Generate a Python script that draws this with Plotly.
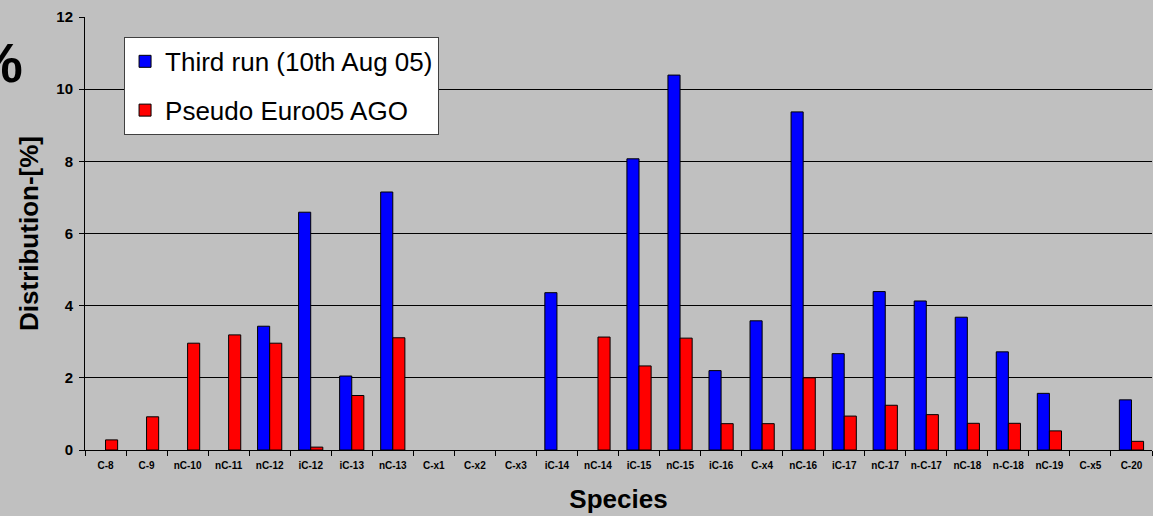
import plotly.graph_objects as go

categories = ["C-8", "C-9", "nC-10", "nC-11", "nC-12", "iC-12", "iC-13", "nC-13", "C-x1", "C-x2",
              "C-x3", "iC-14", "nC-14", "iC-15", "nC-15", "iC-16", "C-x4", "nC-16", "iC-17", "nC-17",
              "n-C-17", "nC-18", "n-C-18", "nC-19", "C-x5", "C-20"]
third_run = [None, None, None, None, 3.43, 6.59, 2.05, 7.15, None, None,
             None, 4.36, None, 8.07, 10.39, 2.20, 3.58, 9.37, 2.67, 4.39,
             4.13, 3.68, 2.72, 1.57, None, 1.39]
pseudo_euro = [0.28, 0.92, 2.96, 3.19, 2.96, 0.08, 1.51, 3.11, None, None,
               None, None, 3.13, 2.33, 3.10, 0.73, 0.73, 2.00, 0.94, 1.24,
               0.98, 0.74, 0.74, 0.53, None, 0.24]
y_ticks = [0, 2, 4, 6, 8, 10, 12]

FONT = "Arial, Liberation Sans, sans-serif"
BG = "#C0C0C0"

fig = go.Figure()
fig.add_trace(go.Bar(x=categories, y=third_run, name="Third run (10th Aug 05)", legendgroup="a",
                     marker=dict(color="#0000FF", line=dict(color="black", width=1))))
fig.add_trace(go.Bar(x=categories, y=pseudo_euro, name="Pseudo Euro05 AGO", legendgroup="b",
                     marker=dict(color="#FF0000", line=dict(color="black", width=1))))

fig.update_layout(
    width=1153, height=516,
    paper_bgcolor=BG, plot_bgcolor=BG,
    margin=dict(l=85, r=1, t=17, b=66),
    barmode="group", bargap=0.41, bargroupgap=0,
    font=dict(family=FONT, color="black"),
    legend=dict(x=0.0366, y=0.954, xanchor="left", yanchor="top",
                bgcolor="white", bordercolor="#404040", borderwidth=1,
                font=dict(size=26, family=FONT), tracegroupgap=12,
                itemwidth=30),
    xaxis=dict(
        tickfont=dict(size=10, family=FONT, weight="bold"), tickangle=0,
        showline=True, linecolor="black", linewidth=1,
        ticks="outside", tickcolor="black", ticklen=5, tickson="boundaries",
        ticklabelstandoff=6,
        title=dict(text="Species", font=dict(size=26, family=FONT, weight="bold"), standoff=19),
        range=[-0.5, 25.5],
    ),
    yaxis=dict(
        range=[0, 12], tickvals=y_ticks,
        tickfont=dict(size=15, family=FONT, weight="bold"),
        showline=True, linecolor="black", linewidth=1,
        ticks="outside", tickcolor="black", ticklen=5, ticklabelstandoff=3,
        showgrid=True, gridcolor="black", gridwidth=1,
        zeroline=False,
        title=dict(text="Distribution-[%]", font=dict(size=26, family=FONT, weight="bold"), standoff=10),
    ),
    annotations=[dict(text="%", xref="paper", yref="paper", x=-0.056, y=0.896,
                      xanchor="right", yanchor="middle", showarrow=False,
                      font=dict(size=56, family=FONT, weight="bold", color="black"))],
)

fig.write_html("out.html")
